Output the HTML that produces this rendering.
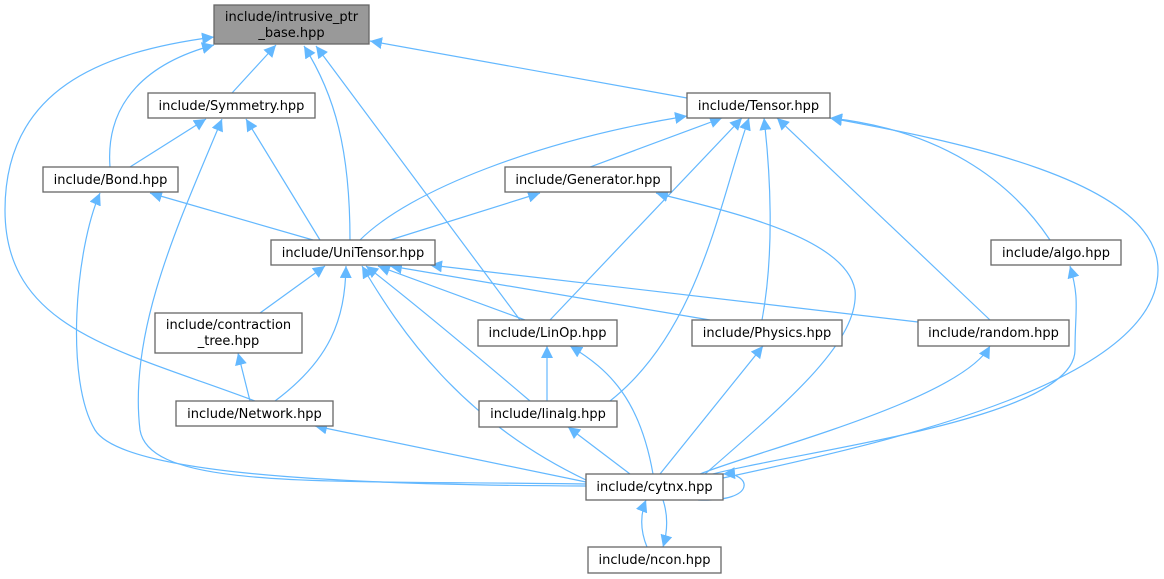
<!DOCTYPE html>
<html><head><meta charset="utf-8"><style>
html,body{margin:0;padding:0;background:#fff;width:1164px;height:579px;overflow:hidden}
text{font-family:"DejaVu Sans","Liberation Sans",sans-serif;font-size:13px;fill:#000}
.b{fill:#fff;stroke:#666;stroke-width:1.3}
.e{fill:none;stroke:#63b8ff;stroke-width:1.2}
</style></head><body>
<svg width="1164" height="579" viewBox="0 0 1164 579" xmlns="http://www.w3.org/2000/svg">
<defs><marker id="a" viewBox="0 0 10 10" refX="10" refY="5" markerWidth="12" markerHeight="12" markerUnits="userSpaceOnUse" orient="auto"><path d="M0,0L10,5L0,10z" fill="#63b8ff"/></marker></defs>
<g class="e" marker-end="url(#a)">
<path d="M232,93 L276,45"/>
<path d="M110,167 C105,100 150,62 214,45"/>
<path d="M255,401 C120,350 5,330 5,210 C5,90 100,52 214,37"/>
<path d="M350,240 C350,150 335,95 304,46"/>
<path d="M520,320 L316,46"/>
<path d="M687,98 L370,41"/>
<path d="M130,167 L206,119"/>
<path d="M586,484 C320,480 150,490 140,430 C128,330 180,220 222,119"/>
<path d="M320,240 L246,119"/>
<path d="M313,240 L150,193"/>
<path d="M586,486 C300,485 120,470 95,430 C65,380 75,250 100,193"/>
<path d="M360,240 C410,190 540,140 687,116"/>
<path d="M590,167 L722,118"/>
<path d="M550,320 L742,118"/>
<path d="M610,401 C700,330 720,200 749,118"/>
<path d="M762,320 C775,250 770,170 764,118"/>
<path d="M990,320 L777,118"/>
<path d="M1050,240 C1010,180 940,130 830,118"/>
<path d="M723,478 C900,440 1158,380 1158,270 C1158,180 950,140 830,118"/>
<path d="M390,240 L540,193"/>
<path d="M705,474 C790,400 860,340 855,290 C845,235 720,210 656,193"/>
<path d="M260,313 L325,266"/>
<path d="M275,401 C330,360 345,320 346,266"/>
<path d="M525,320 L378,266"/>
<path d="M530,401 C470,350 410,300 366,266"/>
<path d="M586,480 C460,420 400,330 362,266"/>
<path d="M710,320 L390,266"/>
<path d="M918,322 L430,265"/>
<path d="M250,401 L238,353"/>
<path d="M586,482 L315,426"/>
<path d="M547,401 L547,346"/>
<path d="M653,474 C640,400 610,370 570,346"/>
<path d="M660,474 L763,346"/>
<path d="M700,474 C760,450 960,400 990,346"/>
<path d="M705,476 C800,450 1075,420 1075,350 C1075,310 1080,300 1070,266"/>
<path d="M630,474 L568,427"/>
<path d="M647,547 C640,530 640,515 646,500"/>
<path d="M663,500 C668,515 668,530 663,547"/>
<path d="M698,500 C760,502 750,472 723,474"/>
</g>
<rect x="214" y="5" width="155" height="39" fill="#999" stroke="#666" stroke-width="1.3"/>
<text x="291.5" y="21" text-anchor="middle">include/intrusive_ptr</text>
<text x="291.5" y="37" text-anchor="middle">_base.hpp</text>
<rect class="b" x="148" y="93" width="167" height="25"/><text x="231.5" y="110" text-anchor="middle">include/Symmetry.hpp</text>
<rect class="b" x="687" y="93" width="143" height="25"/><text x="758.5" y="110" text-anchor="middle">include/Tensor.hpp</text>
<rect class="b" x="43" y="167" width="135" height="25"/><text x="110.5" y="184" text-anchor="middle">include/Bond.hpp</text>
<rect class="b" x="505" y="167" width="166" height="25"/><text x="588" y="184" text-anchor="middle">include/Generator.hpp</text>
<rect class="b" x="271" y="240" width="164" height="25"/><text x="353" y="257" text-anchor="middle">include/UniTensor.hpp</text>
<rect class="b" x="991" y="240" width="130" height="25"/><text x="1056" y="257" text-anchor="middle">include/algo.hpp</text>
<rect class="b" x="155" y="313" width="147" height="40"/><text x="228.5" y="329" text-anchor="middle">include/contraction</text><text x="228.5" y="345" text-anchor="middle">_tree.hpp</text>
<rect class="b" x="478" y="320" width="139" height="26"/><text x="547.5" y="337" text-anchor="middle">include/LinOp.hpp</text>
<rect class="b" x="692" y="320" width="150" height="26"/><text x="767" y="337" text-anchor="middle">include/Physics.hpp</text>
<rect class="b" x="918" y="320" width="151" height="26"/><text x="993.5" y="337" text-anchor="middle">include/random.hpp</text>
<rect class="b" x="176" y="401" width="157" height="25"/><text x="254.5" y="418" text-anchor="middle">include/Network.hpp</text>
<rect class="b" x="479" y="401" width="138" height="26"/><text x="548" y="418" text-anchor="middle">include/linalg.hpp</text>
<rect class="b" x="586" y="474" width="137" height="26"/><text x="654.5" y="491" text-anchor="middle">include/cytnx.hpp</text>
<rect class="b" x="588" y="547" width="133" height="26"/><text x="654.5" y="564" text-anchor="middle">include/ncon.hpp</text>
</svg>
</body></html>
